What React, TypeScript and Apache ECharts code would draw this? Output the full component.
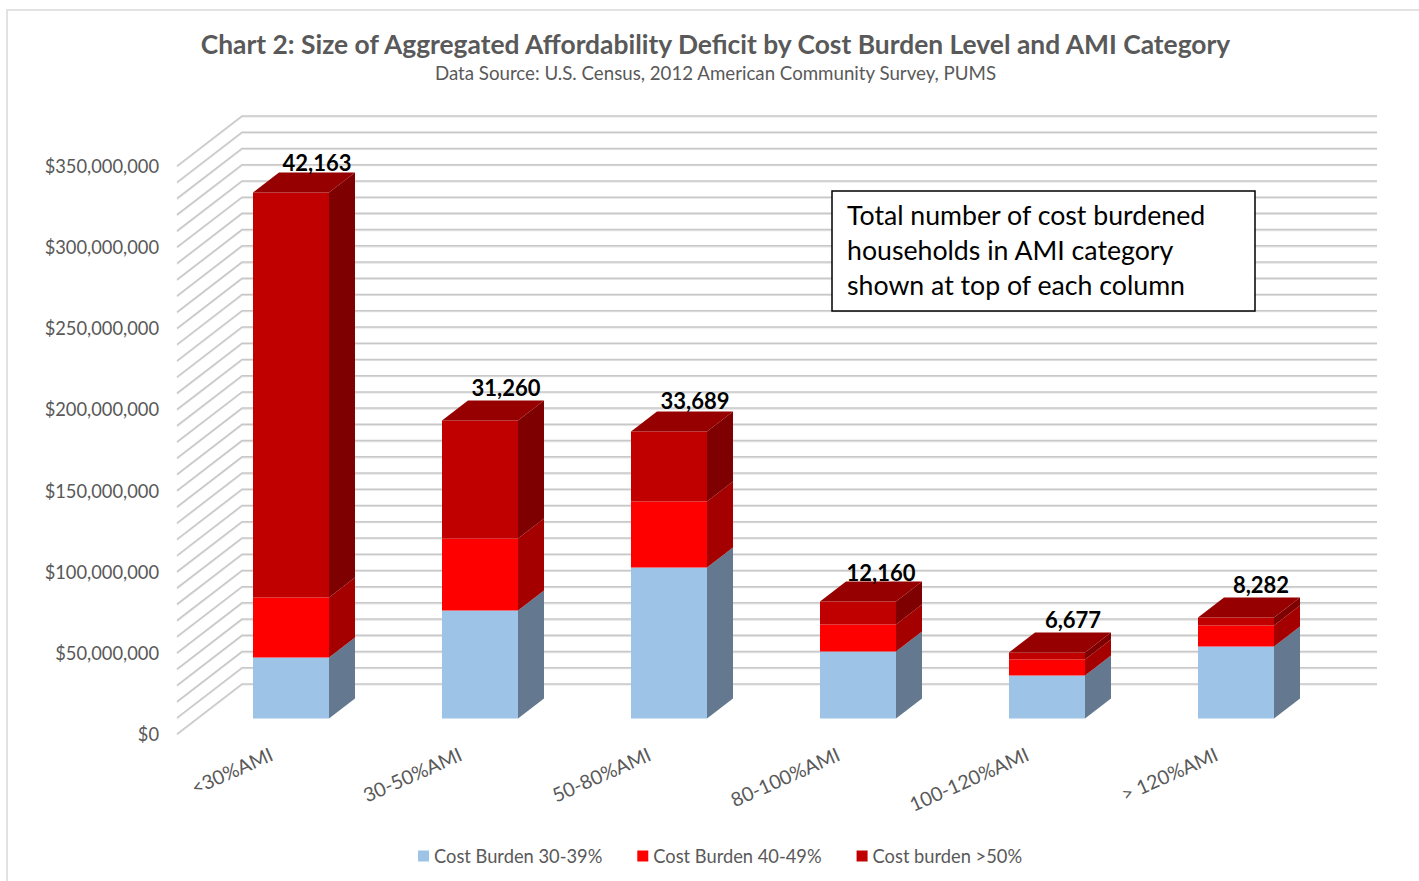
import React, { useEffect, useRef } from "react";
import * as echarts from "echarts";

const categories = ["<30%AMI", "30-50%AMI", "50-80%AMI", "80-100%AMI", "100-120%AMI", "> 120%AMI"];
const burden30to39 = [37600000, 66500000, 93000000, 41300000, 26500000, 44400000];
const burden40to49 = [37000000, 44400000, 40700000, 16600000, 9900000, 12900000];
const burdenOver50 = [249500000, 72700000, 43100000, 14200000, 4300000, 4900000];
const householdTotals = ["42,163", "31,260", "33,689", "12,160", "6,677", "8,282"];
const gridValues = [
  0, 10, 20, 30, 40, 50, 60, 70, 80, 90, 100, 110, 120, 130, 140, 150, 160, 170,
  180, 190, 200, 210, 220, 230, 240, 250, 260, 270, 280, 290, 300, 310, 320, 330, 340, 350,
].map((m) => m * 1000000);
const seriesNames = ["Cost Burden 30-39%", "Cost Burden 40-49%", "Cost burden >50%"];
const titleText = "Chart 2: Size of Aggregated Affordability Deficit by Cost Burden Level and AMI Category";
const subtitleText = "Data Source: U.S. Census, 2012 American Community Survey, PUMS";
const noteLines = ["Total number of cost burdened", "households in AMI category", "shown at top of each column"];

const FONT = "Lato";
const BAR_W = 76;
const OFF_X = 19.5; // plane of the bar fronts relative to the axis plane
const OFF_Y = -15.5;
const DEPTH_X = 26;
const DEPTH_Y = -20;
const WALL_X = 65;
const WALL_Y = -50;
const WALL_RIGHT = 1377;
const labelNudgeX = [0, 0, 0, -3, 0, -1];
const labelNudgeY = [0, -2.5, -0.5, 1.5, -2.5, -2.5];

function pts(...p: number[][]) {
  return p;
}

function stackSeries(name: string, values: number[], base: number[], front: string, side: string, top: string | null) {
  return {
    type: "custom",
    name,
    coordinateSystem: "cartesian2d",
    clip: false,
    z: 5,
    itemStyle: { color: front },
    encode: { x: 0, y: [1, 2] },
    data: values.map((v, i) => [i, base[i], base[i] + v]),
    renderItem: (_: any, api: any) => {
      const a = api.coord([api.value(0), api.value(1)]);
      const b = api.coord([api.value(0), api.value(2)]);
      const x0 = a[0] + OFF_X - BAR_W / 2;
      const x1 = x0 + BAR_W;
      const yb = a[1] + OFF_Y;
      const yt = b[1] + OFF_Y;
      const children: any[] = [
        {
          type: "polygon",
          shape: { points: pts([x1, yb], [x1 + DEPTH_X, yb + DEPTH_Y], [x1 + DEPTH_X, yt + DEPTH_Y], [x1, yt]) },
          style: { fill: side },
        },
        {
          type: "polygon",
          shape: { points: pts([x0, yb], [x1, yb], [x1, yt], [x0, yt]) },
          style: { fill: front },
        },
      ];
      if (top) {
        children.push({
          type: "polygon",
          shape: { points: pts([x0, yt], [x1, yt], [x1 + DEPTH_X, yt + DEPTH_Y], [x0 + DEPTH_X, yt + DEPTH_Y]) },
          style: { fill: top },
        });
      }
      return { type: "group", children };
    },
  };
}

export default function App() {
  const ref = useRef<HTMLDivElement>(null);
  useEffect(() => {
    document.body.style.margin = "0";
    const chart = echarts.init(ref.current!, undefined, { renderer: "svg" });
    const base2 = burden30to39;
    const base3 = burden30to39.map((v, i) => v + burden40to49[i]);
    const totals = base3.map((v, i) => v + burdenOver50[i]);
    chart.setOption({
      animation: false,
      backgroundColor: "#fff",
      title: {
        text: titleText,
        subtext: subtitleText,
        left: 710.5,
        top: 26,
        textAlign: "center",
        itemGap: 6,
        textStyle: { fontFamily: FONT, fontSize: 26.4, fontWeight: "bold", color: "#595959" },
        subtextStyle: { fontFamily: FONT, fontSize: 18.7, color: "#595959" },
      },
      legend: {
        data: seriesNames,
        left: 413,
        top: 842,
        itemWidth: 11,
        itemHeight: 11,
        itemGap: 35,
        textStyle: { fontFamily: FONT, fontSize: 18.3, color: "#595959", padding: [0, 0, 0, 0] },
        icon: "rect",
      },
      grid: { left: 177, top: 166, width: 1134, height: 568, containLabel: false },
      xAxis: {
        type: "category",
        data: categories,
        axisLine: { show: false },
        axisTick: { show: false },
        axisLabel: { rotate: 24, interval: 0, margin: 19, fontFamily: FONT, fontSize: 19.6, color: "#595959" },
      },
      yAxis: {
        type: "value",
        min: 0,
        max: 350000000,
        interval: 50000000,
        axisLine: { show: false },
        axisTick: { show: false },
        splitLine: { show: false },
        axisLabel: {
          margin: 18,
          fontFamily: FONT,
          fontSize: 18.3,
          color: "#595959",
          padding: [0, 0, 2, 0],
          formatter: (v: number) => "$" + v.toLocaleString("en-US"),
        },
      },
      graphic: [
        { type: "rect", z: 0, shape: { x: 7, y: 10, width: 1425, height: 890 }, style: { fill: "none", stroke: "#d9d9d9", lineWidth: 1.5 } },
        { type: "rect", z: 100, shape: { x: 832, y: 191, width: 423, height: 120 }, style: { fill: "#fff", stroke: "#000", lineWidth: 1.5 } },
        ...noteLines.map((t, i) => ({
          type: "text",
          z: 101,
          x: 847,
          y: 215 + i * 35,
          style: { text: t, fontFamily: FONT, fontSize: 26.7, fill: "#000", textVerticalAlign: "middle" },
        })),
      ],
      series: [
        {
          type: "custom",
          coordinateSystem: "cartesian2d",
          clip: false,
          silent: true,
          z: 1,
          encode: { x: 0, y: 1 },
          data: gridValues.map((v) => [0, v]),
          renderItem: (params: any, api: any) => {
            const p = api.coord([0, api.value(1)]);
            const y = p[1];
            const x = params.coordSys.x;
            return {
              type: "group",
              children: [
                {
                  type: "polyline",
                  shape: { points: pts([x, y + 1], [x + WALL_X, y + WALL_Y + 1], [WALL_RIGHT, y + WALL_Y + 1]) },
                  style: { fill: "none", stroke: "#e4e4e4", lineWidth: 1.2 },
                },
                {
                  type: "polyline",
                  shape: { points: pts([x, y], [x + WALL_X, y + WALL_Y], [WALL_RIGHT, y + WALL_Y]) },
                  style: { fill: "none", stroke: "#c8c8c8", lineWidth: 1.5 },
                },
              ],
            };
          },
        },
        stackSeries(seriesNames[0], burden30to39, burden30to39.map(() => 0), "#9DC3E6", "#64798F", null),
        stackSeries(seriesNames[1], burden40to49, base2, "#FF0000", "#A50000", null),
        stackSeries(seriesNames[2], burdenOver50, base3, "#C00000", "#7F0000", "#960000"),
        {
          type: "custom",
          coordinateSystem: "cartesian2d",
          clip: false,
          silent: true,
          z: 6,
          encode: { x: 0, y: 1 },
          data: totals.map((v, i) => [i, v]),
          renderItem: (_: any, api: any) => {
            const i = api.value(0);
            const p = api.coord([i, api.value(1)]);
            return {
              type: "text",
              x: p[0] + OFF_X + DEPTH_X + labelNudgeX[i],
              y: p[1] + OFF_Y - 30.5 + labelNudgeY[i],
              style: {
                text: householdTotals[i],
                fontFamily: FONT,
                fontSize: 22,
                fontWeight: "bold",
                fill: "#000",
                textAlign: "center",
                textVerticalAlign: "middle",
              },
            };
          },
        },
      ],
    });
    return () => chart.dispose();
  }, []);
  return <div ref={ref} style={{ position: "absolute", left: 0, top: 0, width: 1419, height: 881 }} />;
}
